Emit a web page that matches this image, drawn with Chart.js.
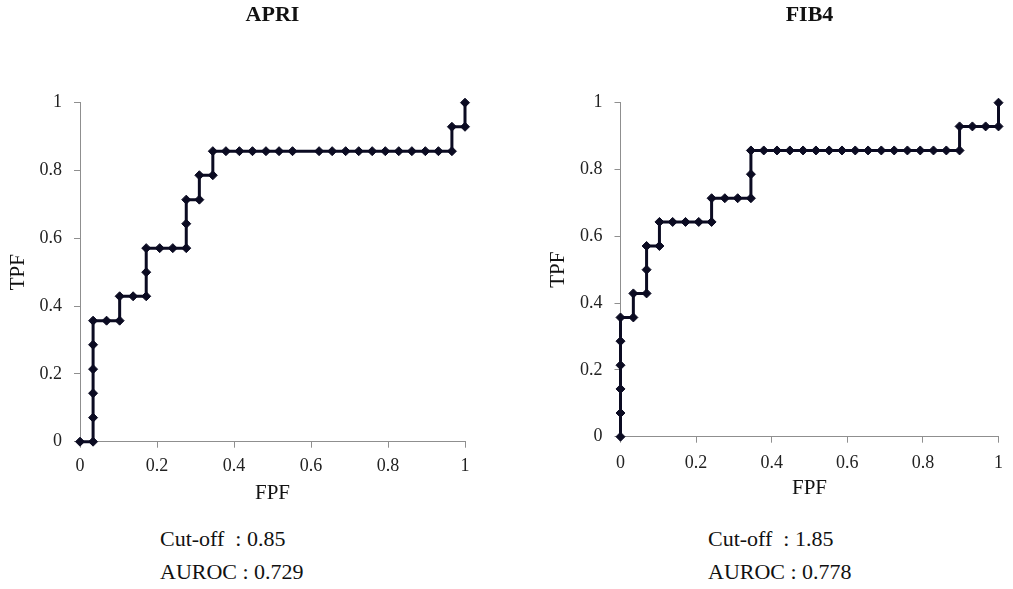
<!DOCTYPE html>
<html>
<head>
<meta charset="utf-8">
<script src="https://cdn.jsdelivr.net/npm/chart.js@4.4.1/dist/chart.umd.min.js"></script>
<style>
  body { margin: 0; background: #fff; width: 1013px; height: 589px; overflow: hidden; position: relative; }
  .box { position: absolute; top: 0; }
  .note {
    position: absolute;
    font-family: "Liberation Serif", "Times New Roman", serif;
    font-size: 22px;
    line-height: 33.3px;
    color: #111;
    white-space: pre;
  }
</style>
</head>
<body>
<div class="box" style="left:0px;width:506px;height:510px;"><canvas id="apri"></canvas></div>
<div class="box" style="left:540px;width:473px;height:505px;"><canvas id="fib4"></canvas></div>
<div class="note" style="left:160px;top:522px;">Cut-off  : 0.85
AUROC : 0.729</div>
<div class="note" style="left:708px;top:522px;">Cut-off  : 1.85
AUROC : 0.778</div>

<script>
// ROC points (FPF on x, TPF on y)
const apriFpf = [0, 0.034, 0.034, 0.034, 0.034, 0.034, 0.034, 0.069, 0.103, 0.103, 0.138,
  0.172, 0.172, 0.172, 0.207, 0.241, 0.276, 0.276, 0.276, 0.310, 0.310, 0.345, 0.345,
  0.379, 0.414, 0.448, 0.483, 0.517, 0.552, 0.621, 0.655, 0.690, 0.724, 0.759, 0.793,
  0.828, 0.862, 0.897, 0.931, 0.966, 0.966, 1, 1];
const apriTpf = [0, 0, 0.071, 0.143, 0.214, 0.286, 0.357, 0.357, 0.357, 0.429, 0.429,
  0.429, 0.5, 0.571, 0.571, 0.571, 0.571, 0.643, 0.714, 0.714, 0.786, 0.786, 0.857,
  0.857, 0.857, 0.857, 0.857, 0.857, 0.857, 0.857, 0.857, 0.857, 0.857, 0.857, 0.857,
  0.857, 0.857, 0.857, 0.857, 0.857, 0.929, 0.929, 1];

const fib4Fpf = [0, 0, 0, 0, 0, 0, 0.034, 0.034, 0.069, 0.069, 0.069, 0.103, 0.103,
  0.138, 0.172, 0.207, 0.241, 0.241, 0.276, 0.310, 0.345, 0.345, 0.345, 0.379, 0.414,
  0.448, 0.483, 0.517, 0.552, 0.586, 0.621, 0.655, 0.690, 0.724, 0.759, 0.793, 0.828,
  0.862, 0.897, 0.897, 0.931, 0.966, 1, 1];
const fib4Tpf = [0, 0.071, 0.143, 0.214, 0.286, 0.357, 0.357, 0.429, 0.429, 0.5, 0.571,
  0.571, 0.643, 0.643, 0.643, 0.643, 0.643, 0.714, 0.714, 0.714, 0.714, 0.786, 0.857,
  0.857, 0.857, 0.857, 0.857, 0.857, 0.857, 0.857, 0.857, 0.857, 0.857, 0.857, 0.857,
  0.857, 0.857, 0.857, 0.857, 0.929, 0.929, 0.929, 0.929, 1];

const axisTicks = [0, 0.2, 0.4, 0.6, 0.8, 1];

const serif = '"Liberation Serif", "Times New Roman", serif';
const lineColor = '#0b0b22';
const axisColor = '#8f8f8f';

function points(xs, ys) {
  let out = [];
  for (let i = 0; i < xs.length; i++) {
    out.push({ x: xs[i], y: ys[i] });
  }
  return out;
}

// yWidth / xHeight pin the plot area to where it sits in the picture
function makeroc(id, title, xs, ys, yWidth, xHeight, padRight, xTickPad, xTitlePad) {
  const axis = function (label, isY) {
    return {
      type: 'linear',
      min: 0,
      max: 1,
      afterBuildTicks: function (scale) {
        scale.ticks = axisTicks.map(v => ({ value: v }));
      },
      afterFit: function (scale) {
        if (isY) scale.width = yWidth;
        else scale.height = xHeight;
      },
      grid: {
        drawOnChartArea: false,
        drawTicks: true,
        tickLength: 6,
        color: axisColor
      },
      border: { color: axisColor, width: 1 },
      ticks: {
        color: '#222',
        padding: isY ? 12 : xTickPad,
        font: { family: serif, size: 18 },
        callback: v => String(v)
      },
      title: {
        display: true,
        text: label,
        color: '#111',
        padding: isY ? { top: 5.7, bottom: 0 } : { top: 0, bottom: xTitlePad },
        font: { family: serif, size: 21 }
      }
    };
  };

  new Chart(document.getElementById(id), {
    type: 'scatter',
    data: {
      datasets: [{
        data: points(xs, ys),
        showLine: true,
        borderColor: lineColor,
        borderWidth: 3,
        pointStyle: 'rectRot',
        pointRadius: 4.5,
        pointBorderWidth: 1,
        pointBackgroundColor: lineColor,
        pointBorderColor: lineColor,
        clip: false
      }]
    },
    options: {
      responsive: true,
      maintainAspectRatio: false,
      animation: false,
      layout: { padding: { left: 0, right: padRight, top: 0, bottom: 0 } },
      plugins: {
        legend: { display: false },
        tooltip: { enabled: false },
        title: {
          display: true,
          text: title,
          fullSize: false,
          color: '#111',
          padding: { top: 2.5, bottom: 73.8 },
          font: { family: serif, size: 22, weight: 'bold' }
        }
      },
      scales: {
        x: axis('FPF', false),
        y: axis('TPF', true)
      }
    }
  });
}

makeroc('apri', 'APRI', apriFpf, apriTpf, 80, 68.3, 41, 7.5, 4);
makeroc('fib4', 'FIB4', fib4Fpf, fib4Tpf, 80.5, 68.3, 6.5, 10, 3.5);
</script>
</body>
</html>
